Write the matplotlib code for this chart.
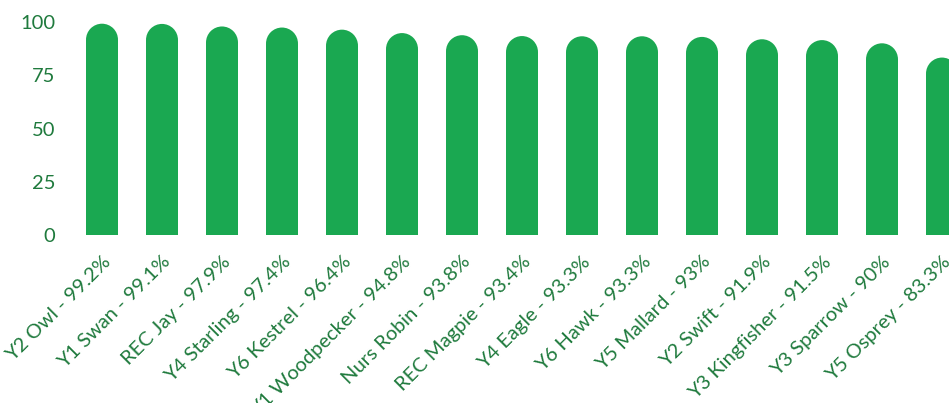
import matplotlib
matplotlib.use("Agg")
import matplotlib.pyplot as plt
from matplotlib.patches import Ellipse

classes = ["Y2 Owl", "Y1 Swan", "REC Jay", "Y4 Starling", "Y6 Kestrel", "Y1 Woodpecker",
           "Nurs Robin", "REC Magpie", "Y4 Eagle", "Y6 Hawk", "Y5 Mallard", "Y2 Swift",
           "Y3 Kingfisher", "Y3 Sparrow", "Y5 Osprey"]
attendance = [99.2, 99.1, 97.9, 97.4, 96.4, 94.8, 93.8, 93.4, 93.3, 93.3, 93.0, 91.9, 91.5, 90.0, 83.3]
yticks = [0, 25, 50, 75, 100]
labels = [f"{c} - {v:g}%" for c, v in zip(classes, attendance)]

BAR = "#1AA851"
TXT = "#1F7A3D"
plt.rcParams['font.family'] = ['Lato', 'DejaVu Sans']

W, H = 949, 403
fig = plt.figure(figsize=(W / 100, H / 100), dpi=100)
left_px, right_px = 72, 72 + 15 * 60
bot_px, top_px = 235, 22
ax = fig.add_axes([left_px / W, (H - bot_px) / H, (right_px - left_px) / W, (bot_px - top_px) / H])
ax.set_xlim(-0.5, 14.5)
ax.set_ylim(0, 100)

bw = 0.533
rx = bw / 2
px_per_x = 60
px_per_y = (bot_px - top_px) / 100
ry = rx * px_per_x / px_per_y
xs = list(range(len(attendance)))
ax.bar(xs, [v - ry for v in attendance], width=bw, color=BAR, linewidth=0)
for x, v in zip(xs, attendance):
    ax.add_patch(Ellipse((x, v - ry), 2 * rx, 2 * ry, facecolor=BAR, edgecolor='none'))

for s in ax.spines.values():
    s.set_visible(False)
ax.set_yticks(yticks)
ax.set_yticklabels([str(t) for t in yticks], color=TXT, fontsize=14.5)
ax.tick_params(axis='y', length=0, pad=12)
ax.set_xticks(xs)
ax.set_xticklabels(labels, rotation=45, ha='right', va='top', rotation_mode='anchor',
                   color=TXT, fontsize=14.5)
ax.tick_params(axis='x', length=0, pad=13)

fig.savefig("out.png", dpi=100)
